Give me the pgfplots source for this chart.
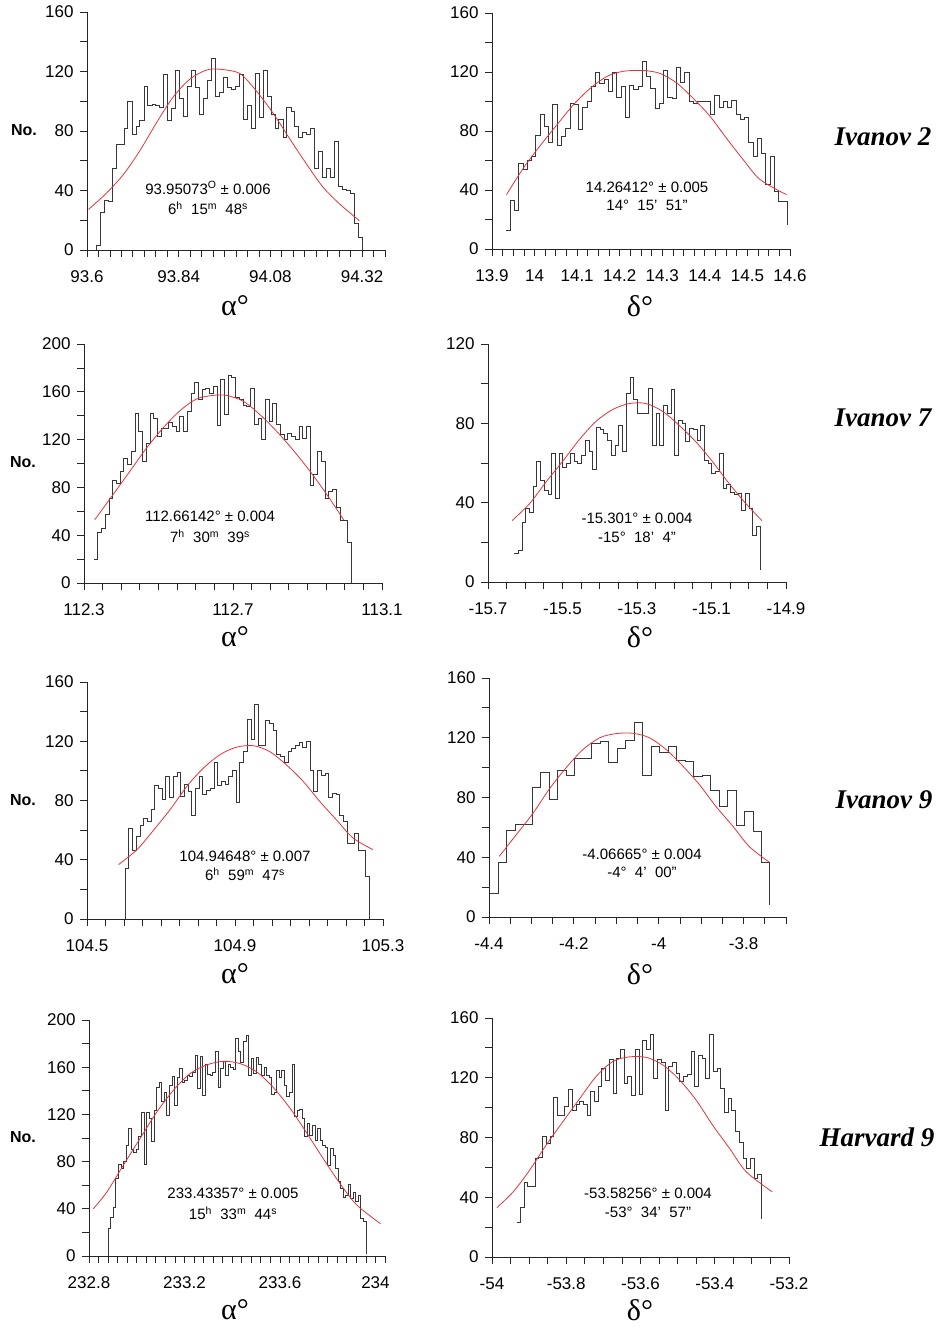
\documentclass[border=0pt]{standalone}
\usepackage{fontspec}
\setmainfont{Liberation Sans}
\newfontfamily\serifb{Liberation Serif}
\usepackage{pgfplots}
\pgfplotsset{compat=1.18}
\definecolor{histc}{RGB}{55,55,55}
\definecolor{fitc}{RGB}{228,50,60}

\pgfplotsset{
  panel/.style={
    scale only axis, anchor=south west,
    axis x line*=bottom, axis y line*=left,
    axis line style={black!85, line width=0.8pt},
    tick align=outside,
    major tick length=7pt,
    every tick/.append style={black!85, line width=0.8pt},
    tick label style={font=\fontsize{17}{17}\selectfont},
    xticklabel style={yshift=-10pt},
    yticklabel style={xshift=-3pt},
    ymin=0,
  },
  y160/.style={ymax=160, ytick={0,20,40,60,80,100,120,140,160}, yticklabels={0,{},40,{},80,{},120,{},160}},
  y200/.style={ymax=200, ytick={0,20,40,60,80,100,120,140,160,180,200}, yticklabels={0,{},40,{},80,{},120,{},160,{},200}},
  y120/.style={ymax=120, ytick={0,20,40,60,80,100,120}, yticklabels={0,{},40,{},80,{},120}},
  hist/.style={const plot, mark=none, draw=histc, line width=0.8pt},
  fit/.style={smooth, mark=none, draw=fitc, line width=0.8pt},
}
\newcommand\ann[1]{\fontsize{15}{15}\selectfont #1}

\begin{document}
\begin{tikzpicture}[x=1pt, y=-1pt]
\useasboundingbox (0,0) rectangle (939,1329);

% ---- Ivanov 2, alpha
\begin{axis}[panel, y160, at={(87pt,-250pt)}, width=298pt, height=238pt,
  xmin=93.6, xmax=94.38,
  xtick={93.6,93.63,93.66,93.69,93.72,93.75,93.78,93.81,93.84,93.87,93.9,93.93,93.96,93.99,94.02,94.05,94.08,94.11,94.14,94.17,94.2,94.23,94.26,94.29,94.32,94.35,94.38},
  xticklabels={93.6,{},{},{},{},{},{},{},93.84,{},{},{},{},{},{},{},94.08,{},{},{},{},{},{},{},94.32,{},{}}]
\addplot[hist] coordinates {(93.624,0)(93.624,3.4)(93.634,25)(93.645,33.5)(93.655,33)(93.666,55)(93.676,71)(93.686,71)(93.697,82)(93.707,100)(93.718,78)(93.728,83)(93.738,87)(93.749,110)(93.759,97)(93.770,98)(93.780,97)(93.790,96)(93.801,118)(93.811,87)(93.822,95)(93.832,121)(93.842,102)(93.853,90)(93.863,110)(93.874,121)(93.884,109)(93.894,91)(93.905,102)(93.915,114)(93.926,129)(93.936,103)(93.946,106)(93.957,116)(93.967,109)(93.978,108)(93.988,110)(93.998,118)(94.009,88)(94.019,97)(94.030,82)(94.040,119)(94.050,89)(94.061,121)(94.071,103)(94.082,91)(94.092,82)(94.102,88)(94.113,76)(94.123,96)(94.134,93)(94.144,83)(94.154,76)(94.165,79)(94.175,78)(94.186,82)(94.196,55)(94.206,66)(94.217,49)(94.227,55)(94.238,49)(94.248,73)(94.258,43)(94.269,41)(94.279,40)(94.290,38)(94.300,18)(94.310,8.5)(94.321,8.5)(94.321,0)};
\addplot[fit] coordinates {(93.604,27.3)(93.65,38)(93.696,51)(93.739,67)(93.783,86)(93.826,103)(93.870,115)(93.913,121)(93.948,121.5)(94.0,118.6)(94.043,107)(94.087,92)(94.13,75)(94.174,58)(94.217,42.5)(94.261,31)(94.313,19.7)};
\end{axis}

% ---- Ivanov 2, delta
\begin{axis}[panel, y160, at={(492pt,-249pt)}, width=298pt, height=236pt,
  xmin=13.9, xmax=14.6,
  xtick={13.9,13.925,13.95,13.975,14,14.025,14.05,14.075,14.1,14.125,14.15,14.175,14.2,14.225,14.25,14.275,14.3,14.325,14.35,14.375,14.4,14.425,14.45,14.475,14.5,14.525,14.55,14.575,14.6},
  xticklabels={13.9,{},{},{},14,{},{},{},14.1,{},{},{},14.2,{},{},{},14.3,{},{},{},14.4,{},{},{},14.5,{},{},{},14.6}]
\addplot[hist] coordinates {(13.933,12.4)(13.943,33)(13.953,26)(13.963,58)(13.973,54)(13.983,60)(13.993,63)(14.003,77)(14.013,91.5)(14.023,83)(14.033,72)(14.043,98)(14.053,70)(14.063,76)(14.073,82)(14.083,99)(14.093,98)(14.103,81)(14.113,96)(14.123,100)(14.133,110)(14.143,120)(14.153,112)(14.163,115)(14.173,107)(14.183,120)(14.193,103)(14.203,110)(14.213,89)(14.223,111)(14.233,108)(14.243,110)(14.253,127)(14.263,117)(14.273,109)(14.283,95)(14.293,99)(14.303,121)(14.313,103)(14.323,102)(14.333,123)(14.343,113)(14.353,120)(14.363,100)(14.373,99)(14.383,100)(14.393,100)(14.403,100)(14.413,91)(14.423,104)(14.433,96)(14.443,100)(14.453,96)(14.463,101)(14.473,91)(14.483,88)(14.493,89)(14.503,72)(14.513,63)(14.523,75)(14.533,65)(14.543,44)(14.553,63)(14.563,39)(14.573,32)(14.583,32)(14.593,32)(14.593,16.5)};
\addplot[fit] coordinates {(13.934,36.8)(13.974,55)(14.013,70)(14.052,84)(14.092,98)(14.131,109)(14.170,117)(14.209,120.5)(14.256,121)(14.295,119)(14.334,112.5)(14.373,102)(14.412,90)(14.451,75)(14.49,60.6)(14.53,47)(14.592,36.8)};
\end{axis}

% ---- Ivanov 7, alpha
\begin{axis}[panel, y200, at={(84pt,-583pt)}, width=298pt, height=239pt,
  xmin=112.3, xmax=113.1,
  xtick={112.3,112.35,112.4,112.45,112.5,112.55,112.6,112.65,112.7,112.75,112.8,112.85,112.9,112.95,113,113.05,113.1},
  xticklabels={112.3,{},{},{},{},{},{},{},112.7,{},{},{},{},{},{},{},113.1}]
\addplot[hist] coordinates {(112.327,19.5)(112.337,42.7)(112.347,46)(112.357,57)(112.367,71)(112.377,85.6)(112.387,83)(112.397,93)(112.407,104)(112.417,99)(112.427,110)(112.437,142)(112.447,127)(112.457,102)(112.467,117)(112.477,142)(112.487,137.5)(112.497,123)(112.507,129)(112.517,129)(112.527,134)(112.537,131)(112.547,127)(112.557,139)(112.567,127)(112.577,144)(112.587,159)(112.597,168)(112.607,154)(112.617,162)(112.627,162.6)(112.637,159)(112.647,164.6)(112.657,132)(112.667,170)(112.677,141)(112.687,174)(112.697,172)(112.707,155)(112.717,154)(112.727,149)(112.737,148)(112.747,162.6)(112.757,133)(112.767,138)(112.777,120)(112.787,154)(112.797,135)(112.807,150)(112.817,132.5)(112.827,124)(112.837,120)(112.847,125)(112.857,123)(112.867,120)(112.877,131)(112.887,121)(112.897,131)(112.907,82)(112.917,91)(112.927,110)(112.937,102)(112.947,71)(112.957,77)(112.967,78)(112.977,63)(112.987,52)(112.997,52)(113.007,34)(113.017,34)(113.017,0)};
\addplot[fit] coordinates {(112.329,53)(112.378,74)(112.423,93.4)(112.468,113)(112.513,130)(112.557,144)(112.602,154)(112.647,157)(112.683,157)(112.728,152)(112.772,141)(112.817,127)(112.862,111)(112.907,93.4)(112.952,74)(112.997,53)};
\end{axis}

% ---- Ivanov 7, delta
\begin{axis}[panel, y120, at={(488pt,-582pt)}, width=298pt, height=238pt,
  xmin=-15.7, xmax=-14.9,
  xtick={-15.7,-15.65,-15.6,-15.55,-15.5,-15.45,-15.4,-15.35,-15.3,-15.25,-15.2,-15.15,-15.1,-15.05,-15,-14.95,-14.9},
  xticklabels={-15.7,{},{},{},-15.5,{},{},{},-15.3,{},{},{},-15.1,{},{},{},-14.9}]
\addplot[hist] coordinates {(-15.629,14.3)(-15.619,16)(-15.609,30)(-15.599,37)(-15.589,35)(-15.579,48)(-15.569,60.6)(-15.559,51)(-15.549,46)(-15.539,44)(-15.529,65)(-15.519,42.4)(-15.509,65)(-15.499,58)(-15.489,60)(-15.479,65)(-15.469,60.6)(-15.459,60)(-15.449,64)(-15.439,71.5)(-15.429,65.7)(-15.419,57)(-15.409,78)(-15.399,77)(-15.389,75)(-15.379,71.5)(-15.369,63.6)(-15.359,69)(-15.349,79)(-15.339,66)(-15.329,95)(-15.319,103)(-15.309,92)(-15.299,85)(-15.289,85)(-15.279,85)(-15.269,97.6)(-15.259,69)(-15.249,85)(-15.239,69)(-15.229,89)(-15.219,85)(-15.209,97)(-15.199,64)(-15.189,81.6)(-15.179,80)(-15.169,70.7)(-15.159,77.4)(-15.149,77)(-15.139,71.5)(-15.129,79)(-15.119,61.4)(-15.109,60)(-15.099,55)(-15.089,56)(-15.079,65)(-15.069,47)(-15.059,49)(-15.049,45)(-15.039,44)(-15.029,44.6)(-15.019,36)(-15.009,44.6)(-14.999,37)(-14.989,23.6)(-14.979,27.8)(-14.969,27.8)(-14.969,6)};
\addplot[fit] coordinates {(-15.635,31)(-15.588,39.6)(-15.544,50.5)(-15.499,61)(-15.454,72)(-15.41,81)(-15.365,87)(-15.32,90)(-15.276,90)(-15.231,86)(-15.187,79)(-15.142,70.7)(-15.097,60.6)(-15.053,49.7)(-15.008,39.6)(-14.965,31)};
\end{axis}

% ---- Ivanov 9, alpha
\begin{axis}[panel, y160, at={(87pt,-919pt)}, width=296pt, height=237pt,
  xmin=104.5, xmax=105.3,
  xtick={104.5,104.55,104.6,104.65,104.7,104.75,104.8,104.85,104.9,104.95,105,105.05,105.1,105.15,105.2,105.25,105.3},
  xticklabels={104.5,{},{},{},{},{},{},{},104.9,{},{},{},{},{},{},{},105.3}]
\addplot[hist] coordinates {(104.603,0)(104.603,34)(104.613,61)(104.623,46)(104.633,56)(104.643,63)(104.653,68)(104.663,66)(104.673,74)(104.683,90)(104.693,88)(104.703,81)(104.713,96)(104.723,82)(104.733,96)(104.743,99)(104.753,83)(104.763,91)(104.773,86)(104.783,70)(104.793,88)(104.803,96)(104.813,84)(104.823,87)(104.833,88)(104.843,106)(104.853,90)(104.863,93)(104.873,91)(104.883,96)(104.893,100)(104.903,79)(104.913,106)(104.923,113)(104.933,135)(104.943,121)(104.953,145)(104.963,117)(104.973,117)(104.983,134)(104.993,132)(105.003,127)(105.013,111)(105.023,110)(105.033,106)(105.043,113)(105.053,115)(105.063,117)(105.073,119)(105.083,116)(105.093,120)(105.103,100)(105.113,86)(105.123,100)(105.133,97)(105.143,98)(105.153,82)(105.163,85)(105.173,84)(105.183,70)(105.193,66)(105.203,51)(105.213,51)(105.223,58)(105.233,46)(105.243,46)(105.253,29)(105.263,29)(105.263,0)};
\addplot[fit] coordinates {(104.585,36.7)(104.635,46.8)(104.68,60)(104.725,74)(104.77,89.6)(104.815,102)(104.86,111)(104.904,116)(104.95,117)(104.994,113)(105.039,104)(105.084,93)(105.129,79.4)(105.174,67)(105.219,54.7)(105.273,46.8)};
\end{axis}

% ---- Ivanov 9, delta
\begin{axis}[panel, y160, at={(489pt,-917pt)}, width=297pt, height=239pt,
  xmin=-4.4, xmax=-3.7,
  xtick={-4.4,-4.35,-4.3,-4.25,-4.2,-4.15,-4.1,-4.05,-4,-3.95,-3.9,-3.85,-3.8,-3.75,-3.7},
  xticklabels={-4.4,{},{},{},-4.2,{},{},{},-4,{},{},{},-3.8,{},{}}]
\addplot[hist] coordinates {(-4.398,16)(-4.378,36.6)(-4.358,58)(-4.338,62)(-4.318,62)(-4.298,87)(-4.278,97)(-4.258,78.6)(-4.238,98)(-4.218,94.6)(-4.198,106)(-4.178,106)(-4.158,116.5)(-4.138,117.6)(-4.118,103.6)(-4.098,113)(-4.078,118)(-4.058,130)(-4.038,94.6)(-4.018,114)(-3.998,110)(-3.978,114)(-3.958,105)(-3.938,104)(-3.918,94)(-3.898,94.6)(-3.878,85)(-3.858,74)(-3.838,85)(-3.818,61)(-3.798,71)(-3.778,57)(-3.758,36.6)(-3.738,36.6)(-3.738,8.3)};
\addplot[fit] coordinates {(-4.376,40.6)(-4.336,55)(-4.296,69.6)(-4.257,86)(-4.218,100)(-4.179,112)(-4.139,120)(-4.1,122.8)(-4.061,123)(-4.022,120)(-3.982,112)(-3.943,101)(-3.904,88.6)(-3.865,74)(-3.825,60.7)(-3.786,47)(-3.739,36.6)};
\end{axis}

% ---- Harvard 9, alpha
\begin{axis}[panel, y200, at={(89pt,-1256pt)}, width=296pt, height=236pt,
  xmin=232.8, xmax=234.04,
  xtick={232.8,232.84,232.88,232.92,232.96,233,233.04,233.08,233.12,233.16,233.2,233.24,233.28,233.32,233.36,233.4,233.44,233.48,233.52,233.56,233.6,233.64,233.68,233.72,233.76,233.8,233.84,233.88,233.92,233.96,234,234.04},
  xticklabels={232.8,{},{},{},{},{},{},{},{},{},233.2,{},{},{},{},{},{},{},{},{},233.6,{},{},{},{},{},{},{},{},{},234,{}}]
\addplot[hist] coordinates {(232.880,0)(232.880,23)(232.891,33)(232.901,41)(232.912,66)(232.923,77.5)(232.934,74)(232.944,80)(232.955,94)(232.966,108)(232.976,90.5)(232.987,88)(232.998,90.5)(233.008,101)(233.019,122)(233.030,77.5)(233.041,122)(233.051,116.5)(233.062,97)(233.073,123)(233.083,143)(233.094,147)(233.105,131)(233.115,139)(233.126,119)(233.137,145)(233.148,152)(233.158,128)(233.169,151)(233.180,159)(233.190,147)(233.201,149)(233.212,153)(233.222,152)(233.233,156)(233.244,170)(233.255,142)(233.265,169)(233.276,136)(233.287,162)(233.297,154)(233.308,153)(233.319,156)(233.329,173)(233.340,143)(233.351,159)(233.362,165)(233.372,153)(233.383,162)(233.394,160)(233.404,158)(233.415,184)(233.426,173)(233.436,164)(233.447,181.6)(233.458,187)(233.469,153)(233.479,167.5)(233.490,155)(233.501,168)(233.511,162)(233.522,153)(233.533,160)(233.543,153)(233.554,151)(233.565,137)(233.576,139)(233.586,157.6)(233.597,151)(233.608,157.6)(233.618,145)(233.629,135)(233.640,139)(233.650,162)(233.661,118)(233.672,123)(233.683,124)(233.693,116.5)(233.704,101)(233.715,112)(233.725,102)(233.736,111)(233.747,98)(233.757,108)(233.768,98)(233.779,94)(233.790,92)(233.800,77)(233.811,91)(233.822,85)(233.832,74)(233.843,63)(233.854,57)(233.864,50)(233.875,51.5)(233.886,61)(233.897,49)(233.907,54)(233.918,46)(233.929,51.5)(233.939,32)(233.950,29)(233.961,29)(233.961,2)};
\addplot[fit] coordinates {(232.818,40)(232.874,54)(232.944,77)(233.014,99.6)(233.084,122)(233.154,140.6)(233.224,154.7)(233.294,162)(233.364,165)(233.434,163)(233.503,156)(233.573,142.6)(233.643,125)(233.713,104)(233.783,82)(233.853,61)(233.923,43)(234.021,27.4)};
\end{axis}

% ---- Harvard 9, delta
\begin{axis}[panel, y160, at={(492pt,-1257pt)}, width=297pt, height=239pt,
  xmin=-54, xmax=-53.2,
  xtick={-54,-53.95,-53.9,-53.85,-53.8,-53.75,-53.7,-53.65,-53.6,-53.55,-53.5,-53.45,-53.4,-53.35,-53.3,-53.25,-53.2},
  xticklabels={-54,{},{},{},-53.8,{},{},{},-53.6,{},{},{},-53.4,{},{},{},-53.2}]
\addplot[hist] coordinates {(-53.934,23)(-53.924,33)(-53.914,50)(-53.904,47)(-53.894,47)(-53.884,66)(-53.874,66.4)(-53.864,81)(-53.854,76)(-53.844,80.5)(-53.834,106.7)(-53.824,95)(-53.814,95)(-53.804,100.7)(-53.794,112)(-53.784,98)(-53.774,102)(-53.764,104.5)(-53.754,102)(-53.744,95)(-53.734,110.7)(-53.724,104)(-53.714,114)(-53.704,126)(-53.694,118)(-53.684,132)(-53.674,109.6)(-53.664,133)(-53.654,139)(-53.644,116)(-53.634,121)(-53.624,108.5)(-53.614,138.7)(-53.604,109)(-53.594,144.7)(-53.584,138.7)(-53.574,149)(-53.564,119.7)(-53.554,132)(-53.544,130)(-53.534,98)(-53.524,127.5)(-53.514,130)(-53.504,123)(-53.494,117.4)(-53.484,121)(-53.474,122)(-53.464,137.6)(-53.454,114)(-53.444,135)(-53.434,133)(-53.424,119.7)(-53.414,149)(-53.404,124)(-53.394,126)(-53.384,113)(-53.374,97)(-53.364,106)(-53.354,98)(-53.344,84)(-53.334,77)(-53.324,66)(-53.314,59)(-53.304,66)(-53.294,52.6)(-53.284,55)(-53.274,55)(-53.274,25.7)};
\addplot[fit] coordinates {(-53.987,33)(-53.943,43.6)(-53.899,58)(-53.854,75)(-53.809,90.6)(-53.764,106)(-53.719,121)(-53.674,131)(-53.629,134)(-53.584,133.6)(-53.54,128.6)(-53.495,118.6)(-53.45,105)(-53.405,88)(-53.36,72.7)(-53.315,57)(-53.245,43.6)};
\end{axis}

% annotations inside the panels
\node at (208,188) {\ann{93.95073\textsuperscript{O} ± 0.006}};
\node at (208,208) {\ann{6\textsuperscript{h}\ \ 15\textsuperscript{m}\ \ 48\textsuperscript{s}}};
\node at (647,187) {\ann{14.26412° ± 0.005}};
\node at (647,205) {\ann{14°\ \ 15'\ \ 51''}};
\node at (210,516) {\ann{112.66142° ± 0.004}};
\node at (210,536) {\ann{7\textsuperscript{h}\ \ 30\textsuperscript{m}\ \ 39\textsuperscript{s}}};
\node at (637,518) {\ann{-15.301° ± 0.004}};
\node at (637,537) {\ann{-15°\ \ 18'\ \ 4''}};
\node at (245,856) {\ann{104.94648° ± 0.007}};
\node at (245,874) {\ann{6\textsuperscript{h}\ \ 59\textsuperscript{m}\ \ 47\textsuperscript{s}}};
\node at (642,854) {\ann{-4.06665° ± 0.004}};
\node at (642,872) {\ann{-4°\ \ 4'\ \ 00''}};
\node at (233,1193) {\ann{233.43357° ± 0.005}};
\node at (233,1213) {\ann{15\textsuperscript{h}\ \ 33\textsuperscript{m}\ \ 44\textsuperscript{s}}};
\node at (648,1193) {\ann{-53.58256° ± 0.004}};
\node at (648,1212) {\ann{-53°\ \ 34'\ \ 57''}};

% axis titles
\foreach \yy in {306,637,974,1310} {
  \node[font=\serifb\fontsize{30}{30}\selectfont] at (235,\yy) {α°};
  \node[font=\serifb\fontsize{30}{30}\selectfont] at (640,\yy) {δ°};
}
\node[font=\bfseries\fontsize{16}{16}\selectfont] at (24,130) {No.};
\node[font=\bfseries\fontsize{16}{16}\selectfont] at (23,462) {No.};
\node[font=\bfseries\fontsize{16}{16}\selectfont] at (23,800) {No.};
\node[font=\bfseries\fontsize{16}{16}\selectfont] at (23,1137) {No.};

% object names
\node[anchor=east, font=\serifb\bfseries\itshape\fontsize{27}{27}\selectfont] at (935,137) {Ivanov 2};
\node[anchor=east, font=\serifb\bfseries\itshape\fontsize{27}{27}\selectfont] at (935,418) {Ivanov 7};
\node[anchor=east, font=\serifb\bfseries\itshape\fontsize{27}{27}\selectfont] at (936,800) {Ivanov 9};
\node[anchor=east, font=\serifb\bfseries\itshape\fontsize{27}{27}\selectfont] at (938,1137) {Harvard 9};
\end{tikzpicture}
\end{document}
